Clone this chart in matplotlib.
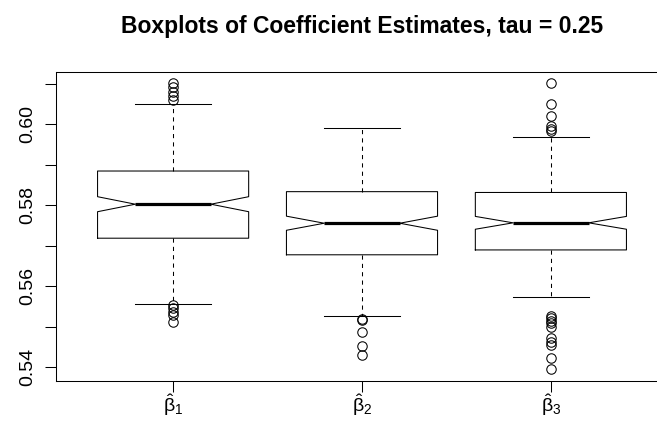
import numpy as np
import matplotlib
matplotlib.use("Agg")
from matplotlib import pyplot as plt

plt.rcParams["font.family"] = ["Liberation Sans", "DejaVu Sans"]
plt.rcParams["mathtext.fontset"] = "custom"
plt.rcParams["mathtext.rm"] = "Liberation Sans"
plt.rcParams["mathtext.it"] = "Liberation Sans"

# values (R boxplot, notch=TRUE)
labels = [r"$\hat{\mathrm{\beta}}_1$", r"$\hat{\mathrm{\beta}}_2$", r"$\hat{\mathrm{\beta}}_3$"]
q1 = [0.5719, 0.5678, 0.5690]
med = [0.5803, 0.5756, 0.5757]
q3 = [0.5885, 0.5834, 0.5832]
whislo = [0.5556, 0.5528, 0.5574]
whishi = [0.6050, 0.5992, 0.5970]
fliers_b1 = [0.6102, 0.6092, 0.6081, 0.6070, 0.6060,
             0.5554, 0.5546, 0.5537, 0.5529, 0.5513]
fliers_b2 = [0.5519, 0.5517, 0.5488, 0.5453, 0.5430]
fliers_b3 = [0.6102, 0.6050, 0.6021, 0.5995, 0.5989, 0.5984,
             0.5527, 0.5521, 0.5515, 0.5509, 0.5500,
             0.5472, 0.5463, 0.5455, 0.5422, 0.5397]
n_obs = 200
fliers = [fliers_b1, fliers_b2, fliers_b3]

stats = []
for i in range(3):
    nh = 1.58 * (q3[i] - q1[i]) / np.sqrt(n_obs)
    stats.append(dict(label=labels[i], med=med[i], q1=q1[i], q3=q3[i],
                      whislo=whislo[i], whishi=whishi[i], fliers=fliers[i],
                      cilo=med[i] - nh, cihi=med[i] + nh))

fig = plt.figure(figsize=(6.57, 4.24), dpi=100)
ax = fig.add_axes([56 / 657, (424 - 380.7) / 424, 612 / 657, 309 / 424])

lw = 0.75
ax.bxp(stats, positions=[1, 2, 3], widths=0.8, shownotches=True,
       boxprops=dict(color="black", linewidth=lw),
       medianprops=dict(color="black", linewidth=2.3, solid_capstyle="butt"),
       whiskerprops=dict(color="black", linewidth=lw, linestyle=(0, (4, 4))),
       capprops=dict(color="black", linewidth=lw),
       flierprops=dict(marker="o", markerfacecolor="none", markeredgecolor="black",
                       markersize=6.8, markeredgewidth=lw))

ax.set_xlim(0.38, 3.62)
ax.set_ylim(0.53669, 0.61304)
ax.set_yticks(np.arange(0.54, 0.6151, 0.01))
ax.set_yticklabels(["0.54", "", "0.56", "", "0.58", "", "0.60", ""],
                   rotation=90, va="center")
ax.tick_params(axis="y", length=8, width=lw, pad=6.5, labelsize=14)
ax.tick_params(axis="x", length=8, width=lw, pad=0.5, labelsize=14)
for s in ax.spines.values():
    s.set_linewidth(lw)

ax.set_title("Boxplots of Coefficient Estimates, tau = 0.25",
             fontsize=16.5, fontweight="bold", pad=28)

fig.savefig("out.png", dpi=100)
